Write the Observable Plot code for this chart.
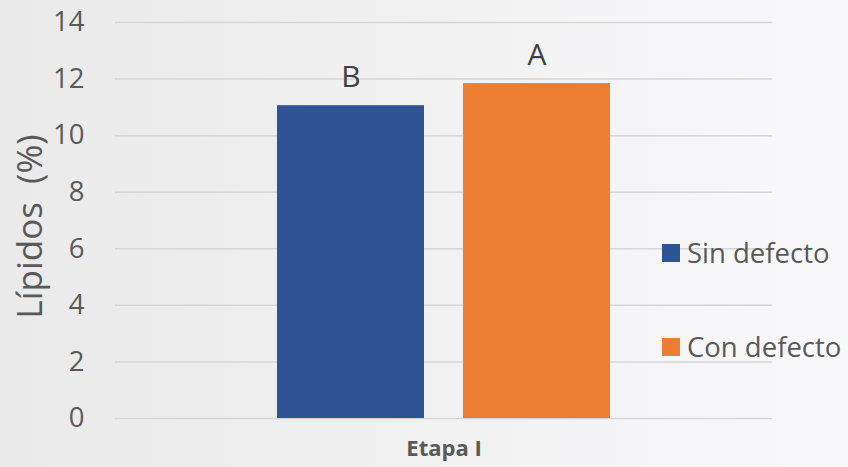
<!DOCTYPE html>
<html>
<head>
<meta charset="utf-8">
<script src="https://cdn.jsdelivr.net/npm/d3@7"></script>
<script src="https://cdn.jsdelivr.net/npm/@observablehq/plot@0.6"></script>
<style>
  body { margin: 0; }
  #chart {
    position: relative;
    width: 848px;
    height: 467px;
    background: linear-gradient(90deg, #eaeaea 0%, #f1f1f2 50%, #f9f9fb 100%);
    font-family: "Open Sans", sans-serif;
    overflow: hidden;
  }
  #chart svg { position: absolute; left: 0; top: 0; }
  .legend {
    position: absolute;
    left: 662px;
    top: 236px;
    color: #595959;
    font-size: 27.5px;
    line-height: 34px;
  }
  .legend .item { display: flex; align-items: center; height: 34px; margin-bottom: 60px; white-space: nowrap; }
  .legend .swatch { width: 18px; height: 18px; margin-right: 7px; flex: none; }
</style>
</head>
<body>
<div id="chart"></div>
<script>
// Lipid content (%) by defect condition, stage I
const stage = ["Etapa I"];
const series = ["Sin defecto", "Con defecto"];
const lipids = [11.06, 11.84];
const letters = ["B", "A"];
const colors = ["#2E5494", "#ED7D31"];
const yTicks = [0, 2, 4, 6, 8, 10, 12, 14];
const yTitle = "Lípidos  (%)";

const rows = series.map((s, i) => ({ stage: stage[0], series: s, value: lipids[i], letter: letters[i] }));

const chart = Plot.plot({
  width: 848,
  height: 467,
  marginLeft: 115,
  marginRight: 76,
  marginTop: 22,
  marginBottom: 49,
  style: { background: "transparent", fontFamily: "'Open Sans', sans-serif", color: "#595959", overflow: "visible" },
  fx: { domain: stage, padding: 0, label: null, axis: null },
  x: { domain: series, paddingInner: 0.2086, paddingOuter: 0.861, axis: null },
  y: { domain: [0, 14], label: null },
  color: { domain: series, range: colors },
  marks: [
    Plot.gridY(yTicks, { stroke: "#d6d6d6", strokeOpacity: 1, strokeWidth: 1.5 }),
    Plot.barY(rows, { fx: "stage", x: "series", y: "value", fill: "series" }),
    Plot.text(rows, {
      fx: "stage", x: "series", y: "value", text: "letter",
      dy: -19, lineAnchor: "bottom", fontSize: 30, fill: "#404040"
    }),
    Plot.axisY(yTicks, { tickSize: 0, tickPadding: 31, fontSize: 27.5, label: null, fill: "#595959" }),
    Plot.axisFx({ anchor: "bottom", tickSize: 0, tickPadding: 22, fontSize: 22, fontWeight: "bold", label: null, fill: "#595959" }),
    Plot.text([yTitle], {
      text: d => d, frameAnchor: "left", textAnchor: "middle", rotate: -90, dx: -85, dy: 6,
      fontSize: 35, fill: "#595959"
    })
  ]
});

const root = document.getElementById("chart");
root.appendChild(chart);

// legend
const legend = document.createElement("div");
legend.className = "legend";
series.forEach((s, i) => {
  const item = document.createElement("div");
  item.className = "item";
  const sw = document.createElement("span");
  sw.className = "swatch";
  sw.style.background = colors[i];
  const label = document.createElement("span");
  label.textContent = s;
  item.appendChild(sw);
  item.appendChild(label);
  legend.appendChild(item);
});
root.appendChild(legend);
</script>
</body>
</html>
